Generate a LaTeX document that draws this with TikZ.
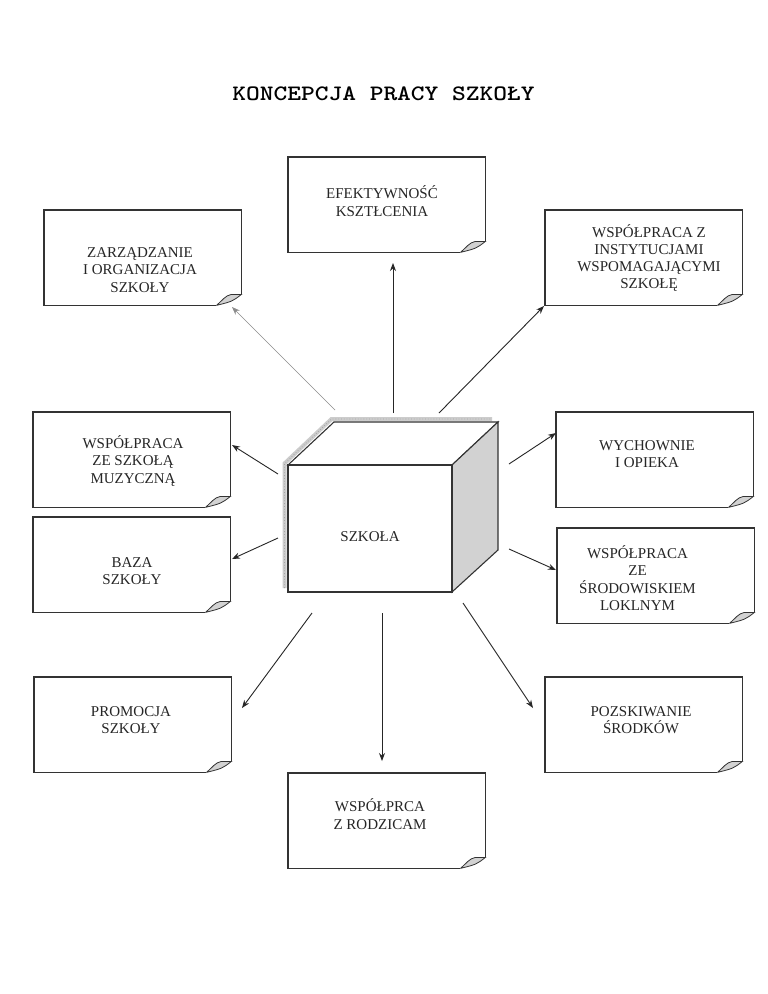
\documentclass[tikz,border=0pt]{standalone}
\usepackage{fontspec}
\usepackage{graphicx}
\setmainfont{Liberation Serif}
\usetikzlibrary{arrows.meta,calc}
\newcommand{\foldnote}[1]{%
  \draw[edge] ($(#1.south east)+(0,-11)$) -- (#1.north east) -- (#1.north west) -- (#1.south west) -- ($(#1.south east)+(-25,0)$);
  \draw[edge, line width=0.8pt, fill=gray!35] ($(#1.south east)+(-25,0)$) .. controls ($(#1.south east)+(-19,-5)$) and ($(#1.south east)+(-16,-10)$) .. ($(#1.south east)+(-10,-11)$) -- ($(#1.south east)+(0,-11)$) .. controls ($(#1.south east)+(-9,-4)$) .. ($(#1.south east)+(-25,0)$);
}
\begin{document}
\begin{tikzpicture}[x=1pt,y=-1pt,
  note/.style={rectangle, minimum width=197pt, minimum height=95pt, inner sep=0pt, anchor=north west},
  edge/.style={draw=black!80, line width=1.1pt},
  lbl/.style={align=center, font=\fontsize{15}{17.3}\selectfont, inner sep=0pt, text=black!85},
  arr/.style={-{Stealth[length=8pt,width=6pt]}, line width=0.9pt, draw=black!85},
  arrgray/.style={-{Stealth[length=8pt,width=6pt]}, line width=0.7pt, draw=black!45}]
\fill[white] (0,0) rectangle (768,994);
\useasboundingbox (0,0) rectangle (768,994);

\node[anchor=base, font=\ttfamily\bfseries\fontsize{22}{26}\selectfont] (title) at (383.5,100) {\scalebox{1.19}[1]{KONCEPCJA PRACY SZKOŁY}};

% boxes
\node[note] (zarz)  at (44,210)  {};
\node[note] (efekt) at (288,157) {};
\node[note] (inst)  at (545,210) {};
\node[note] (muz)   at (33,412)  {};
\node[note] (baza)  at (33,517)  {};
\node[note] (wych)  at (556,412) {};
\node[note] (srod)  at (557,528) {};
\node[note] (prom)  at (34,677)  {};
\node[note] (pozsk) at (545,677) {};
\node[note] (rodz)  at (288,773) {};
\foreach \b in {zarz,efekt,inst,muz,baza,wych,srod,prom,pozsk,rodz}{\foldnote{\b}}

% labels
\node[lbl] (zarzT)  at (140,270)   {ZARZĄDZANIE\\I ORGANIZACJA\\SZKOŁY};
\node[lbl] (efektT) at (382,201)   {EFEKTYWNOŚĆ\\KSZTŁCENIA};
\node[lbl] (instT)  at (649,258)   {WSPÓŁPRACA Z\\INSTYTUCJAMI\\WSPOMAGAJĄCYMI\\SZKOŁĘ};
\node[lbl] (muzT)   at (133,461)   {WSPÓŁPRACA\\ZE SZKOŁĄ\\MUZYCZNĄ};
\node[lbl] (bazaT)  at (132,571)   {BAZA\\SZKOŁY};
\node[lbl] (wychT)  at (647,454)   {WYCHOWNIE\\I OPIEKA};
\node[lbl] (srodT)  at (637.5,578) {WSPÓŁPRACA\\ZE\\ŚRODOWISKIEM\\LOKLNYM};
\node[lbl] (promT)  at (131,720)   {PROMOCJA\\SZKOŁY};
\node[lbl] (pozskT) at (641,720)   {POZSKIWANIE\\ŚRODKÓW};
\node[lbl] (rodzT)  at (380,814)   {WSPÓŁPRCA\\Z RODZICAM};

% cube
\draw[gray!40, line width=4pt] (284.5,588) -- (284.5,463.5) -- (331.5,419) -- (492,419);
\draw[gray!70, line width=0.8pt, dotted] (284.5,588) -- (284.5,463.5) -- (331.5,419) -- (492,419);
\draw[edge, fill=white] (288,465) -- (334,422) -- (498,422) -- (452,465) -- cycle;
\draw[edge, fill=gray!35] (452,465) -- (498,422) -- (498,550) -- (452,592) -- cycle;
\node[draw=black!80, line width=1.1pt, fill=white, minimum width=164pt, minimum height=127pt, inner sep=0pt] (szkola) at (370,528.5) {};
\node[lbl] (szkolaT) at (370,537) {SZKOŁA};

% connector ends
\coordinate (s1) at (335,410);  \coordinate (e1) at (232,307);
\coordinate (s2) at (393,413);  \coordinate (e2) at (393,263);
\coordinate (s3) at (439,413);  \coordinate (e3) at (544,306);
\coordinate (s4) at (278,474);  \coordinate (e4) at (232,445);
\coordinate (s5) at (278,538);  \coordinate (e5) at (232,559);
\coordinate (s6) at (509,464);  \coordinate (e6) at (556,433);
\coordinate (s7) at (509,549);  \coordinate (e7) at (556,570);
\coordinate (s8) at (312,613);  \coordinate (e8) at (242,708);
\coordinate (s9) at (382,613);  \coordinate (e9) at (382,761);
\coordinate (s10) at (463,603); \coordinate (e10) at (533,708);

\draw[arrgray] (s1) -- (e1);
\foreach \i in {2,...,10}{\draw[arr] (s\i) -- (e\i);}
\end{tikzpicture}
\end{document}
